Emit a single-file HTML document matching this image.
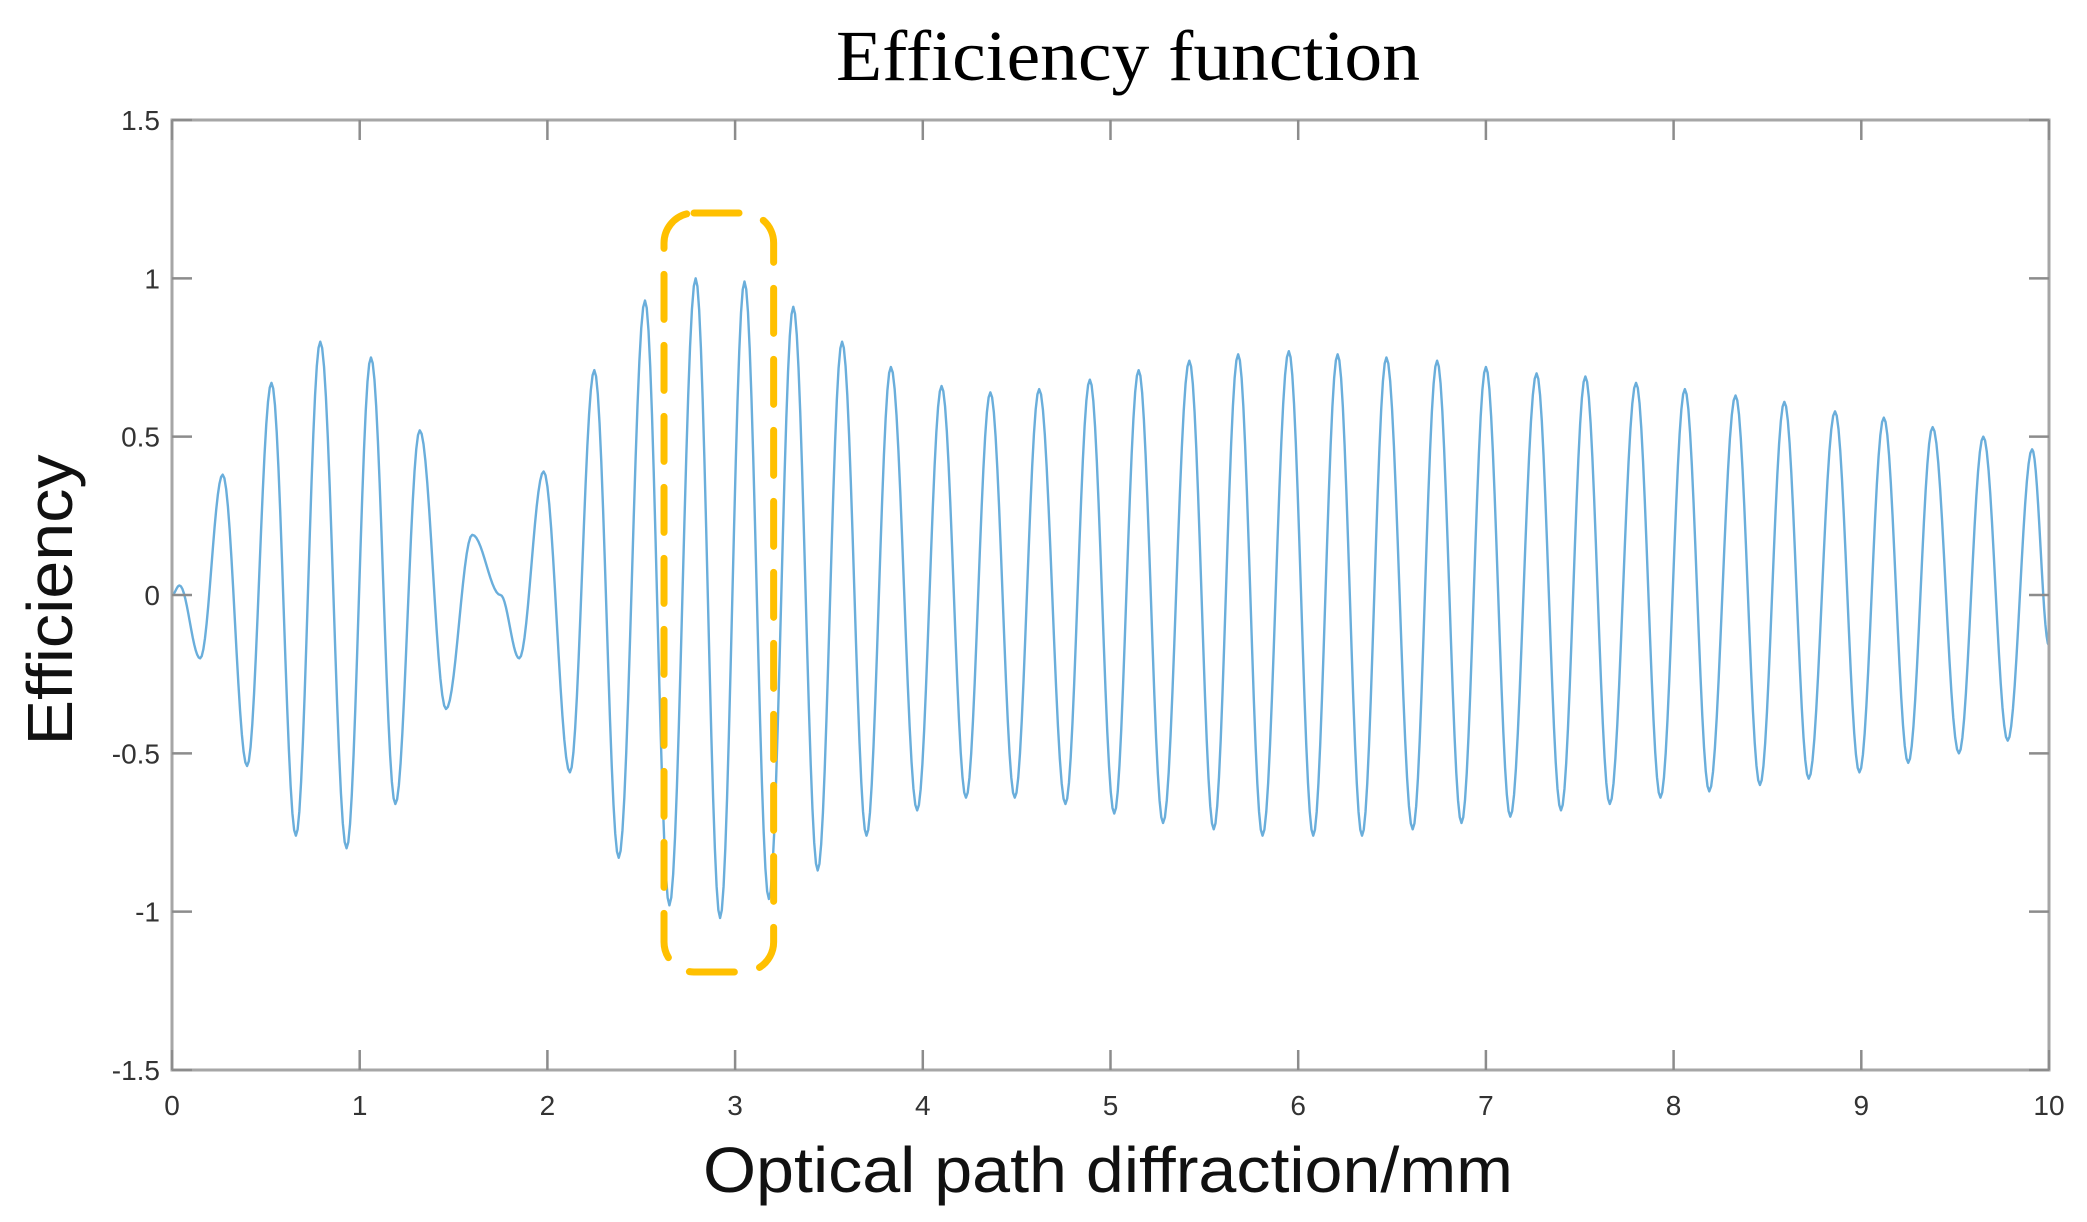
<!DOCTYPE html>
<html><head><meta charset="utf-8">
<style>
html,body{margin:0;padding:0;background:#fff;}
svg{display:block;}
</style></head>
<body>
<svg id="chart" width="2087" height="1222" viewBox="0 0 2087 1222" xmlns="http://www.w3.org/2000/svg">
<rect x="0" y="0" width="2087" height="1222" fill="#fff"/>
<text x="1128" y="80" font-family="Liberation Serif, serif" font-size="72" text-anchor="middle" textLength="584" lengthAdjust="spacingAndGlyphs" fill="#000">Efficiency function</text>
<g id="plot"></g>
<text x="1108" y="1192" font-family="Liberation Sans, sans-serif" font-size="64" text-anchor="middle" textLength="810" lengthAdjust="spacingAndGlyphs" fill="#111">Optical path diffraction/mm</text>
<text transform="translate(72,600) rotate(-90)" x="0" y="0" font-family="Liberation Sans, sans-serif" font-size="64" text-anchor="middle" textLength="291" lengthAdjust="spacingAndGlyphs" fill="#111">Efficiency</text>
</svg>
<script>
const xTicks = [0,1,2,3,4,5,6,7,8,9,10];
const yTicks = [-1.5,-1,-0.5,0,0.5,1,1.5];
const yTickLabels = ["-1.5","-1","-0.5","0","0.5","1","1.5"];
const extremaX = [0,0.04,0.15,0.27,0.40,0.53,0.66,0.79,0.93,1.06,1.19,1.32,1.46,1.60,1.75,1.85,1.98,2.12,2.25,2.38,2.52,2.65,2.79,2.92,3.05,3.18,3.31,3.44,3.57,3.70,3.83,3.97,4.10,4.23,4.36,4.49,4.62,4.76,4.89,5.02,5.15,5.28,5.42,5.55,5.68,5.81,5.95,6.08,6.21,6.34,6.47,6.61,6.74,6.87,7.00,7.13,7.27,7.40,7.53,7.66,7.80,7.93,8.06,8.19,8.33,8.46,8.59,8.72,8.86,8.99,9.12,9.25,9.38,9.52,9.65,9.78,9.91,10];
const extremaY = [0,0.03,-0.2,0.38,-0.54,0.67,-0.76,0.8,-0.8,0.75,-0.66,0.52,-0.36,0.19,0.0,-0.2,0.39,-0.56,0.71,-0.83,0.93,-0.98,1.0,-1.02,0.99,-0.96,0.91,-0.87,0.8,-0.76,0.72,-0.68,0.66,-0.64,0.64,-0.64,0.65,-0.66,0.68,-0.69,0.71,-0.72,0.74,-0.74,0.76,-0.76,0.77,-0.76,0.76,-0.76,0.75,-0.74,0.74,-0.72,0.72,-0.7,0.7,-0.68,0.69,-0.66,0.67,-0.64,0.65,-0.62,0.63,-0.6,0.61,-0.58,0.58,-0.56,0.56,-0.53,0.53,-0.5,0.5,-0.46,0.46,-0.16];
const highlightRange = [2.6, 3.2];

const NS = "http://www.w3.org/2000/svg";
const L = 172, R = 2049, T = 120, B = 1070;
const xMin = 0, xMax = 10, yMin = -1.5, yMax = 1.5;
function sx(v){ return L + (v - xMin) / (xMax - xMin) * (R - L); }
function sy(v){ return B - (v - yMin) / (yMax - yMin) * (B - T); }
const plot = document.getElementById('plot');
function mk(tag, attrs){ const e = document.createElementNS(NS, tag); for (const k in attrs) e.setAttribute(k, attrs[k]); return e; }

// series path: cosine-shaped segments between successive extrema
let d = "M" + sx(extremaX[0]).toFixed(2) + "," + sy(extremaY[0]).toFixed(2);
for (let i = 0; i < extremaX.length - 1; i++) {
  const x0 = extremaX[i], x1 = extremaX[i+1], y0 = extremaY[i], y1 = extremaY[i+1];
  const n = 14;
  for (let k = 1; k <= n; k++) {
    const t = k / n;
    const s = (1 - Math.cos(Math.PI * t)) / 2;
    d += " L" + sx(x0 + (x1 - x0) * t).toFixed(2) + "," + sy(y0 + (y1 - y0) * s).toFixed(2);
  }
}
const line = mk('path', {d: d, fill: 'none', stroke: '#6aaedb', 'stroke-width': 2.4, 'stroke-linejoin': 'round'});


plot.appendChild(line);

// axes box
const box = mk('rect', {x: L, y: T, width: R - L, height: B - T, fill: 'none', stroke: '#a6a6a6', 'stroke-width': 3});


plot.appendChild(box);

xTicks.forEach(function(v, i){
  const x = sx(v);
  const t1 = mk('line', {x1: x, y1: B, x2: x, y2: B - 20, stroke: '#8c8c8c', 'stroke-width': 2.5});
  
  
  plot.appendChild(t1);
  const t2 = mk('line', {x1: x, y1: T, x2: x, y2: T + 20, stroke: '#8c8c8c', 'stroke-width': 2.5});
  
  
  plot.appendChild(t2);
  const lb = mk('text', {x: x, y: B + 45, 'font-family': 'Liberation Sans, sans-serif', 'font-size': 28, 'text-anchor': 'middle', fill: '#333'});
  lb.textContent = String(v);
  
  
  plot.appendChild(lb);
});
yTicks.forEach(function(v, i){
  const y = sy(v);
  const t1 = mk('line', {x1: L, y1: y, x2: L + 20, y2: y, stroke: '#8c8c8c', 'stroke-width': 2.5});
  
  
  plot.appendChild(t1);
  const t2 = mk('line', {x1: R, y1: y, x2: R - 20, y2: y, stroke: '#8c8c8c', 'stroke-width': 2.5});
  
  
  plot.appendChild(t2);
  const lb = mk('text', {x: L - 12, y: y + 10, 'font-family': 'Liberation Sans, sans-serif', 'font-size': 28, 'text-anchor': 'end', fill: '#333'});
  lb.textContent = yTickLabels[i];
  
  
  plot.appendChild(lb);
});

// highlight dashed rounded box
const hx0 = sx(highlightRange[0]) + 4, hx1 = sx(highlightRange[1]) + 1;
const hl = mk('rect', {x: hx0, y: 213, width: hx1 - hx0, height: 972 - 213, rx: 30, ry: 30, fill: 'none', stroke: '#ffc000', 'stroke-width': 7, 'stroke-dasharray': '45 26', 'stroke-linecap': 'round'});


plot.appendChild(hl);
</script>
</body></html>
